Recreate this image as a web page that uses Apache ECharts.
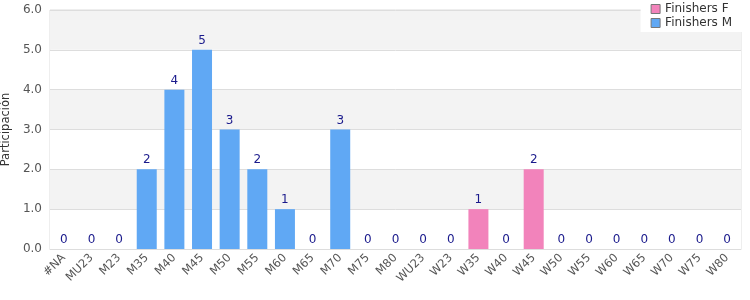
<!DOCTYPE html>
<html>
<head>
<meta charset="utf-8">
<script src="https://cdn.jsdelivr.net/npm/echarts@6/dist/echarts.min.js"></script>
<style>
  html, body { margin: 0; padding: 0; background: #fff; }
  #chart { width: 750px; height: 300px; }
</style>
</head>
<body>
<div id="chart"></div>
<script>
const categories = ['#NA', 'MU23', 'M23', 'M35', 'M40', 'M45', 'M50', 'M55', 'M60', 'M65', 'M70', 'M75', 'M80',
  'WU23', 'W23', 'W35', 'W40', 'W45', 'W50', 'W55', 'W60', 'W65', 'W70', 'W75', 'W80']
const finishersM = [0, 0, 0, 2, 4, 5, 3, 2, 1, 0, 3, 0, 0, 0, 0, 0, 0, 0, 0, 0, 0, 0, 0, 0, 0]
const finishersF = [0, 0, 0, 0, 0, 0, 0, 0, 0, 0, 0, 0, 0, 0, 0, 1, 0, 2, 0, 0, 0, 0, 0, 0, 0]
const yTicks = { min: 0, max: 6, interval: 1 }

const myChart = echarts.init(document.getElementById('chart'))
const font = 'DejaVu Sans'
const option = {
  animation: false,
  textStyle: { fontFamily: font },
  grid: {
    left: 50, right: 9, top: 10, bottom: 51,
    outerBoundsMode: 'none', containLabel: false,
    show: true, borderColor: '#dddddd', borderWidth: 1
  },
  legend: {
    orient: 'vertical',
    right: 4,
    top: 0,
    backgroundColor: '#ffffff',
    padding: [3, 14, 3, 10],
    itemGap: 2,
    itemWidth: 9,
    itemHeight: 9,
    icon: 'rect',
    itemStyle: { borderColor: '#777', borderWidth: 1 },
    textStyle: { fontSize: 12, color: '#333', fontFamily: font },
    data: ['Finishers F', 'Finishers M']
  },
  xAxis: {
    type: 'category',
    data: categories,
    axisTick: { show: false },
    axisLine: { lineStyle: { color: '#dddddd' } },
    axisLabel: { rotate: 45, interval: 0, color: '#555', fontSize: 11.5, margin: 7 }
  },
  yAxis: {
    type: 'value',
    min: yTicks.min,
    max: yTicks.max,
    interval: yTicks.interval,
    name: 'Participación',
    nameLocation: 'middle',
    nameGap: 38,
    nameTextStyle: { color: '#333', fontSize: 11.5 },
    axisLine: { show: false },
    axisLabel: { color: '#555', fontSize: 12, formatter: v => v.toFixed(1), margin: 8 },
    splitLine: { lineStyle: { color: '#dddddd' } },
    splitArea: { show: true, areaStyle: { color: ['#ffffff', '#f3f3f3'] } }
  },
  series: [
    {
      name: 'Finishers M',
      type: 'bar',
      stack: 'total',
      barWidth: 20,
      data: finishersM,
      itemStyle: { color: '#60a8f4' }
    },
    {
      name: 'Finishers F',
      type: 'bar',
      stack: 'total',
      barWidth: 20,
      data: finishersF,
      itemStyle: { color: '#f283bb' },
      label: {
        show: true,
        position: 'top',
        color: '#1a1a8c',
        fontSize: 12,
        distance: 3,
        formatter: p => String(finishersM[p.dataIndex] + finishersF[p.dataIndex])
      }
    }
  ]
}
myChart.setOption(option)
</script>
</body>
</html>
